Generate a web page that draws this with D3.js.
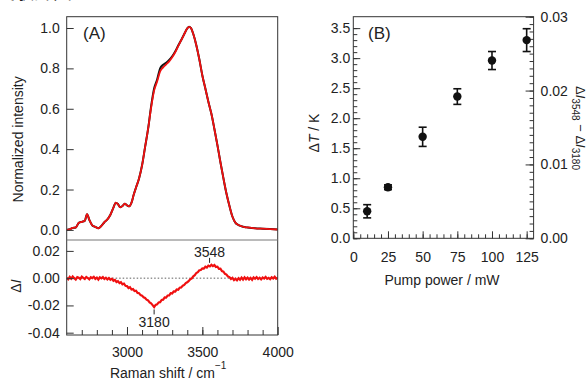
<!DOCTYPE html>
<html>
<head>
<meta charset="utf-8">
<script src="https://cdn.jsdelivr.net/npm/d3@7"></script>
<style>
  body { margin: 0; background: #fff; }
  svg { display: block; font-family: "Liberation Sans", Arial, sans-serif; }
</style>
</head>
<body>
<svg id="chart" width="588" height="379"></svg>
<script>
// ---- panel A : Raman spectra ----
const ramanX = [2600, 2620, 2640, 2660, 2680, 2700, 2720, 2735, 2750, 2770, 2790, 2810, 2830, 2850, 2870, 2890,
  2910, 2925, 2940, 2955, 2970, 2985, 3000, 3015, 3030, 3045, 3060, 3080, 3100, 3120, 3140, 3160, 3180,
  3200, 3220, 3240, 3260, 3280, 3300, 3320, 3340, 3360, 3380, 3400, 3412, 3425, 3440, 3460, 3480, 3500,
  3520, 3540, 3560, 3580, 3600, 3620, 3640, 3660, 3680, 3700, 3720, 3740, 3760, 3780, 3800, 3850, 3900,
  3950, 4000];
// reference spectrum (black)
const intensityRef = [0.000, 0.003, 0.010, 0.012, 0.035, 0.040, 0.045, 0.078, 0.050, 0.022, 0.015, 0.008, 0.020, 0.038, 0.052, 0.075,
  0.110, 0.135, 0.128, 0.112, 0.118, 0.130, 0.122, 0.117, 0.135, 0.175, 0.210, 0.255, 0.320, 0.410, 0.500, 0.612, 0.700,
  0.745, 0.800, 0.818, 0.828, 0.842, 0.860, 0.884, 0.913, 0.941, 0.970, 0.998, 1.006, 1.000, 0.970, 0.915, 0.845, 0.765,
  0.700, 0.635, 0.575, 0.500, 0.420, 0.335, 0.255, 0.180, 0.118, 0.065, 0.035, 0.024, 0.018, 0.014, 0.012, 0.008, 0.006,
  0.004, 0.002];
// spectrum under pumping (red)
const intensityPump = [0.000, 0.003, 0.010, 0.012, 0.035, 0.040, 0.045, 0.078, 0.050, 0.022, 0.015, 0.008, 0.020, 0.038, 0.052, 0.075,
  0.110, 0.135, 0.128, 0.112, 0.118, 0.130, 0.122, 0.117, 0.135, 0.175, 0.210, 0.255, 0.320, 0.410, 0.500, 0.605, 0.690,
  0.735, 0.785, 0.805, 0.820, 0.835, 0.855, 0.880, 0.910, 0.940, 0.970, 0.998, 1.006, 1.000, 0.970, 0.915, 0.845, 0.765,
  0.700, 0.635, 0.575, 0.500, 0.420, 0.335, 0.255, 0.180, 0.118, 0.065, 0.035, 0.024, 0.018, 0.014, 0.012, 0.008, 0.006,
  0.004, 0.002];

// difference spectrum, every 10 cm-1 from 2600 to 4000
const diffStart = 2600, diffStep = 10;
const diffI = [0.0002, -0.0008, 0.0010, -0.0004, 0.0012, 0.0000, -0.0010, 0.0008, 0.0003, -0.0007,
  0.0011, 0.0002, -0.0006, 0.0009, 0.0001, -0.0009, 0.0007, 0.0000, 0.0010, -0.0005,
  0.0004, -0.0011, 0.0006, -0.0002, 0.0008, -0.0006, 0.0003, -0.0009, 0.0001, -0.0012,
  -0.0004, -0.0019, -0.0013, -0.0028, -0.0022, -0.0036, -0.0030, -0.0045, -0.0040, -0.0056,
  -0.0058, -0.0072, -0.0066, -0.0083, -0.0080, -0.0095, -0.0092, -0.0108, -0.0110, -0.0124,
  -0.0128, -0.0140, -0.0145, -0.0158, -0.0163, -0.0178, -0.0185, -0.0198, -0.0212, -0.0196,
  -0.0192, -0.0178, -0.0176, -0.0160, -0.0158, -0.0141, -0.0143, -0.0127, -0.0126, -0.0110,
  -0.0112, -0.0097, -0.0098, -0.0083, -0.0085, -0.0070, -0.0068, -0.0055, -0.0050, -0.0036,
  -0.0030, -0.0020, -0.0008, -0.0002, 0.0014, 0.0022, 0.0038, 0.0044, 0.0058, 0.0060,
  0.0072, 0.0070, 0.0084, 0.0078, 0.0092, 0.0086, 0.0098, 0.0088, 0.0096, 0.0082,
  0.0084, 0.0068, 0.0070, 0.0052, 0.0048, 0.0032, 0.0026, 0.0012, 0.0008, -0.0006,
  0.0002, -0.0014, -0.0004, -0.0016, 0.0000, -0.0012, 0.0004, -0.0010, 0.0006, -0.0008,
  0.0004, -0.0010, 0.0002, -0.0012, 0.0006, -0.0004, 0.0008, -0.0006, 0.0003, -0.0009,
  0.0005, -0.0003, 0.0009, -0.0005, 0.0002, -0.0008, 0.0006, -0.0002, 0.0010, -0.0004,
  0.0003];
const peakMarks = [{x: 3548, y: 0.0105, label: "3548", above: true}, {x: 3180, y: -0.0222, label: "3180", above: false}];

const topTicks = [0.0, 0.2, 0.4, 0.6, 0.8, 1.0];
const diffTicks = [0.02, 0.00, -0.02, -0.04];
const ramanTicks = [3000, 3500, 4000];

// ---- panel B : temperature rise vs pump power ----
const pumpPower = [10, 25, 50, 75, 100, 125];
const deltaT = [0.45, 0.85, 1.69, 2.36, 2.96, 3.30];
const deltaTErr = [0.11, 0.04, 0.16, 0.13, 0.15, 0.19];
const powerTicks = [0, 25, 50, 75, 100, 125];
const dtTicks = [0.0, 0.5, 1.0, 1.5, 2.0, 2.5, 3.0, 3.5];
const diffRightTicks = [0.00, 0.01, 0.02, 0.03];

const svg = d3.select("#chart");
const ink = "#222";
const frame = "#333";
const fs = 14;

// caption cut by the top edge, only its lower strokes show
svg.append("text").attr("x", -4).attr("y", -1).attr("font-size", 19)
  .attr("font-family", "'Noto Sans CJK JP', sans-serif").attr("fill", ink).text("実験計画");

// ===== panel A =====
const A = {left: 66.7, right: 277.7, top: 16.7, mid: 240, bottom: 335};
const xA = d3.scaleLinear().domain([2600, 4000]).range([A.left, A.right]);
const yTop = d3.scaleLinear().domain([-0.05, 1.056]).range([A.mid, A.top]);
const yDiff = d3.scaleLinear().domain([-0.0417, 0.028]).range([A.bottom, A.mid]);

svg.append("clipPath").attr("id", "clipTop").append("rect")
  .attr("x", A.left).attr("y", A.top).attr("width", A.right - A.left).attr("height", A.mid - A.top);
svg.append("clipPath").attr("id", "clipBot").append("rect")
  .attr("x", A.left).attr("y", A.mid).attr("width", A.right - A.left).attr("height", A.bottom - A.mid);

const specLine = arr => d3.line().curve(d3.curveMonotoneX)
  .x((d, i) => xA(ramanX[i])).y((d) => yTop(d))(arr);

const gTop = svg.append("g").attr("clip-path", "url(#clipTop)");
gTop.append("path").attr("d", specLine(intensityRef)).attr("fill", "none")
  .attr("stroke", "#111").attr("stroke-width", 2);
gTop.append("path").attr("d", specLine(intensityPump)).attr("fill", "none")
  .attr("stroke", "#f01010").attr("stroke-width", 1.8);

const gBot = svg.append("g").attr("clip-path", "url(#clipBot)");
gBot.append("line").attr("x1", A.left).attr("x2", A.right)
  .attr("y1", yDiff(0)).attr("y2", yDiff(0))
  .attr("stroke", "#333").attr("stroke-width", 0.8).attr("stroke-dasharray", "1.5,2");
gBot.append("path")
  .attr("d", d3.line().x((d, i) => xA(diffStart + i * diffStep)).y(d => yDiff(d))(diffI))
  .attr("fill", "none").attr("stroke", "#f01010").attr("stroke-width", 2.2);

// peak markers
peakMarks.forEach(p => {
  const px = xA(p.x), py = yDiff(p.y);
  const dir = p.above ? -1 : 1;
  svg.append("line").attr("x1", px).attr("x2", px)
    .attr("y1", py + dir * 1).attr("y2", py + dir * 6)
    .attr("stroke", ink).attr("stroke-width", 1);
  svg.append("text").attr("x", px).attr("y", p.above ? py - 7 : py + 19)
    .attr("text-anchor", "middle").attr("font-size", fs).attr("fill", ink).text(p.label);
});

// left axes of A
function styleAxis(g) {
  g.select(".domain").remove();
  g.selectAll("line").attr("stroke", frame);
  g.selectAll("text").attr("font-size", fs).attr("fill", ink).attr("font-family", null);
}
svg.append("g").attr("transform", `translate(${A.left},0)`)
  .call(d3.axisLeft(yTop).tickValues(topTicks).tickFormat(d3.format(".1f")).tickSize(-7).tickPadding(7))
  .call(styleAxis);
svg.append("g").attr("transform", `translate(${A.left},0)`)
  .call(d3.axisLeft(yDiff).tickValues(diffTicks).tickFormat(d => d3.format(".2f")(d).replace("−", "-")).tickSize(-7).tickPadding(7))
  .call(styleAxis);
svg.append("g").attr("transform", `translate(0,${A.bottom})`)
  .call(d3.axisBottom(xA).tickValues(d3.range(2700, 4000, 100)).tickFormat("").tickSize(-5))
  .call(styleAxis);
svg.append("g").attr("transform", `translate(0,${A.bottom})`)
  .call(d3.axisBottom(xA).tickValues(ramanTicks).tickFormat(d3.format("d")).tickSize(-8).tickPadding(12))
  .call(styleAxis);

// frames
svg.append("rect").attr("x", A.left).attr("y", A.top).attr("width", A.right - A.left)
  .attr("height", A.bottom - A.top).attr("fill", "none").attr("stroke", frame).attr("stroke-width", 1);
svg.append("line").attr("x1", A.left).attr("x2", A.right).attr("y1", A.mid).attr("y2", A.mid)
  .attr("stroke", "#777").attr("stroke-width", 1);

svg.append("text").attr("x", 83).attr("y", 38.5).attr("font-size", 17).attr("fill", ink).text("(A)");

svg.append("text").attr("transform", `translate(22.5,${(A.top + A.mid) / 2 + 11}) rotate(-90)`)
  .attr("text-anchor", "middle").attr("font-size", fs).attr("fill", ink).text("Normalized intensity");
const dI = svg.append("text").attr("transform", `translate(20.5,286) rotate(-90)`)
  .attr("text-anchor", "middle").attr("font-size", fs).attr("fill", ink);
dI.append("tspan").text("Δ");
dI.append("tspan").attr("font-style", "italic").text("I");

const xl = svg.append("text").attr("x", (A.left + A.right) / 2 - 4).attr("y", 377.5)
  .attr("text-anchor", "middle").attr("font-size", fs).attr("fill", ink);
xl.append("tspan").text("Raman shift / cm");
xl.append("tspan").attr("dy", -9).attr("font-size", 10).text("−1");

// ===== panel B =====
const B = {left: 353.3, right: 533.6, top: 16.7, bottom: 238.3};
const xB = d3.scaleLinear().domain([0, 130]).range([B.left, B.right]);
const yB = d3.scaleLinear().domain([0, 3.69]).range([B.bottom, B.top]);
const yB2 = d3.scaleLinear().domain([0, 0.03]).range([B.bottom, B.top]);

svg.append("g").attr("transform", `translate(${B.left},0)`)
  .call(d3.axisLeft(yB).tickValues(d3.range(0, 36).map(i => i / 10)).tickFormat("").tickSize(-4))
  .call(styleAxis);
svg.append("g").attr("transform", `translate(${B.left},0)`)
  .call(d3.axisLeft(yB).tickValues(dtTicks).tickFormat(d3.format(".1f")).tickSize(-7).tickPadding(3))
  .call(styleAxis);
svg.append("g").attr("transform", `translate(${B.right},0)`)
  .call(d3.axisRight(yB2).tickValues(d3.range(0, 31).map(i => i / 1000)).tickFormat("").tickSize(-4))
  .call(styleAxis);
svg.append("g").attr("transform", `translate(${B.right},0)`)
  .call(d3.axisRight(yB2).tickValues(diffRightTicks).tickFormat(d3.format(".2f")).tickSize(-8).tickPadding(7))
  .call(styleAxis);
svg.append("g").attr("transform", `translate(0,${B.bottom})`)
  .call(d3.axisBottom(xB).tickValues(d3.range(0, 130, 5)).tickFormat("").tickSize(-4))
  .call(styleAxis);
svg.append("g").attr("transform", `translate(0,${B.bottom})`)
  .call(d3.axisBottom(xB).tickValues(powerTicks).tickFormat(d3.format("d")).tickSize(-7).tickPadding(14))
  .call(styleAxis);

svg.append("rect").attr("x", B.left).attr("y", B.top).attr("width", B.right - B.left)
  .attr("height", B.bottom - B.top).attr("fill", "none").attr("stroke", frame).attr("stroke-width", 1);

// error bars and markers
const pts = svg.append("g");
pumpPower.forEach((p, i) => {
  const cx = xB(p);
  const y1 = yB(deltaT[i] - deltaTErr[i]), y2 = yB(deltaT[i] + deltaTErr[i]);
  pts.append("line").attr("x1", cx).attr("x2", cx).attr("y1", y1).attr("y2", y2)
    .attr("stroke", "#111").attr("stroke-width", 1.6);
  [y1, y2].forEach(yy => pts.append("line").attr("x1", cx - 4).attr("x2", cx + 4)
    .attr("y1", yy).attr("y2", yy).attr("stroke", "#111").attr("stroke-width", 1.6));
  pts.append("circle").attr("cx", cx).attr("cy", yB(deltaT[i])).attr("r", 4.2).attr("fill", "#111");
});

svg.append("text").attr("x", 368).attr("y", 38.5).attr("font-size", 17).attr("fill", ink).text("(B)");

const yl = svg.append("text").attr("transform", `translate(318.5,133) rotate(-90)`)
  .attr("text-anchor", "middle").attr("font-size", fs).attr("fill", ink);
yl.append("tspan").text("Δ");
yl.append("tspan").attr("font-style", "italic").text("T");
yl.append("tspan").text(" / K");

const yr = svg.append("text").attr("transform", `translate(576,128) rotate(90)`)
  .attr("text-anchor", "middle").attr("font-size", 13).attr("fill", ink);
yr.append("tspan").text("Δ");
yr.append("tspan").attr("font-style", "italic").text("I");
yr.append("tspan").attr("font-size", 10).attr("dy", 4).text("3548");
yr.append("tspan").attr("dy", -4).text(" − Δ");
yr.append("tspan").attr("font-style", "italic").text("I");
yr.append("tspan").attr("font-size", 10).attr("dy", 4).text("3180");

svg.append("text").attr("x", 442).attr("y", 284.5).attr("text-anchor", "middle")
  .attr("font-size", fs).attr("fill", ink).text("Pump power / mW");
</script>
</body>
</html>
